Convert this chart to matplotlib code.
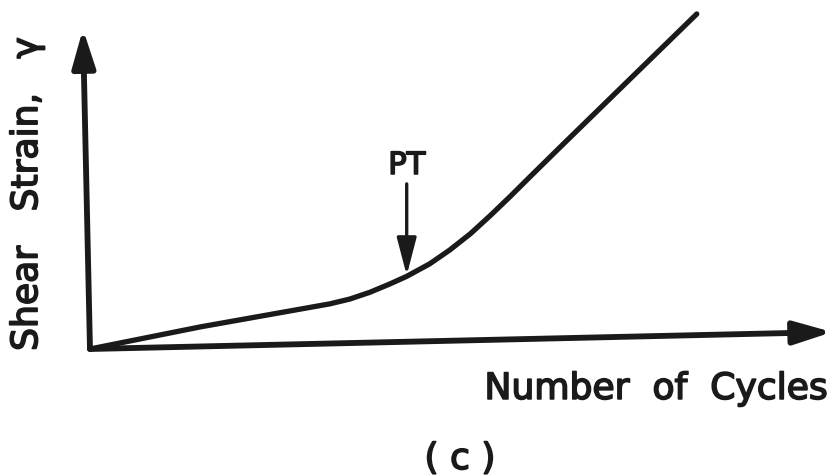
import numpy as np
import matplotlib.pyplot as plt
import matplotlib.patheffects as pe

# strain history sketch: slow linear growth, then faster after the transition point
cycles = [0, 14.9, 32.4, 35.1, 37.8, 40.5, 42.8, 45.9, 48.6, 51.4,
          54.1, 56.8, 59.5, 63.9, 68.6, 82.0]
strain = [0, 6.9, 14.1, 15.6, 17.7, 20.3, 22.7, 26.6, 30.9, 36.0,
          41.7, 47.7, 53.9, 63.9, 74.5, 104.7]
pt_cycle = 42.8
pt_strain = 23.0

fig = plt.figure(figsize=(8.35, 4.77), dpi=100)
ax = fig.add_axes([0, 0, 1, 1])
ax.set_xlim(-12.16, 100.68)
ax.set_ylim(-39.69, 109.375)
ax.axis('off')

ink = '#1a1a1a'
heavy = [pe.withStroke(linewidth=1.2, foreground=ink)]
head = '-|>,head_length=2.3,head_width=0.7'

# axes drawn as hand-sketched arrows
ax.annotate('', xy=(-0.95, 100), xytext=(0, 0),
            arrowprops=dict(arrowstyle=head, lw=4.2, color=ink,
                            shrinkA=0, shrinkB=0))
ax.annotate('', xy=(100.3, 5.3), xytext=(0, 0),
            arrowprops=dict(arrowstyle=head, lw=4.2, color=ink,
                            shrinkA=0, shrinkB=0))

ax.plot(cycles, strain, color=ink, lw=3.8, solid_capstyle='round',
        solid_joinstyle='round')

# transition point marker
ax.annotate('', xy=(pt_cycle, pt_strain), xytext=(pt_cycle, 51.6),
            arrowprops=dict(arrowstyle='-|>,head_length=2.3,head_width=0.6',
                            lw=2.4, color=ink, shrinkA=0, shrinkB=0))
ax.text(pt_cycle, 54.7, 'PT', ha='center', va='baseline', fontsize=22,
        color=ink, path_effects=heavy)

ax.text(-8.5, 48.4, 'Shear   Strain,   γ', rotation=90, ha='center',
        va='center', fontsize=26, color=ink, path_effects=heavy)
ax.text(76.5, -15.6, 'Number  of  Cycles', ha='center', va='baseline',
        fontsize=26, color=ink, path_effects=heavy)
ax.text(50.0, -37.5, '( c )', ha='center', va='baseline',
        fontsize=26, color=ink, path_effects=heavy)

fig.savefig('out.png', dpi=100, facecolor='white')
